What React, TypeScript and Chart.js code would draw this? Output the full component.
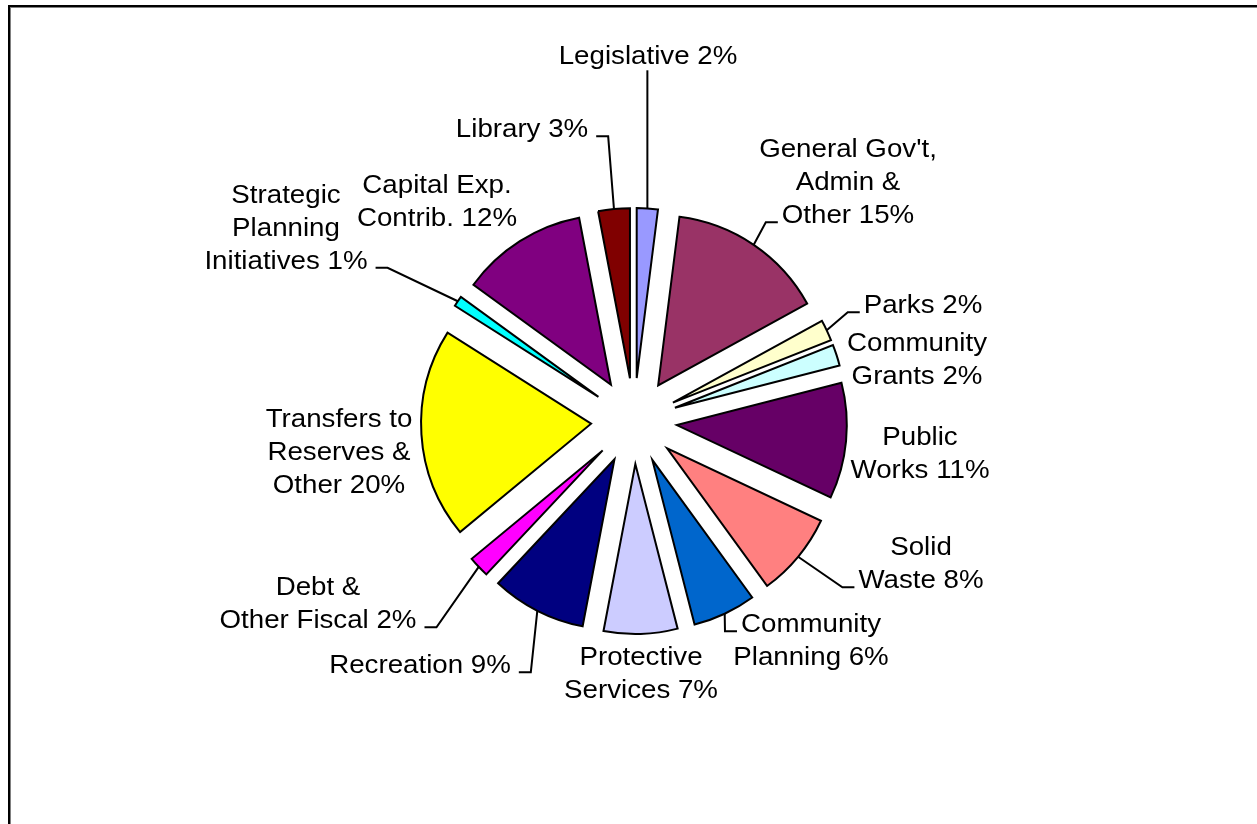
import { useEffect, useRef } from "react";
import { Chart, registerables } from "chart.js";

Chart.register(...registerables);

// ---- data ----
const CATEGORIES = [
  "Legislative",
  "General Gov't, Admin & Other",
  "Parks",
  "Community Grants",
  "Public Works",
  "Solid Waste",
  "Community Planning",
  "Protective Services",
  "Recreation",
  "Debt & Other Fiscal",
  "Transfers to Reserves & Other",
  "Strategic Planning Initiatives",
  "Capital Exp. Contrib.",
  "Library",
];
const VALUES = [2, 15, 2, 2, 11, 8, 6, 7, 9, 2, 20, 1, 12, 3];
const LABEL_LINES: string[][] = [
  ["Legislative"],
  ["General Gov't,", "Admin &", "Other"],
  ["Parks"],
  ["Community", "Grants"],
  ["Public", "Works"],
  ["Solid", "Waste"],
  ["Community", "Planning"],
  ["Protective", "Services"],
  ["Recreation"],
  ["Debt &", "Other Fiscal"],
  ["Transfers to", "Reserves &", "Other"],
  ["Strategic", "Planning", "Initiatives"],
  ["Capital Exp.", "Contrib."],
  ["Library"],
];

// ---- styles / layout ----
const COLORS = [
  "#9999FF",
  "#993366",
  "#FFFFCC",
  "#CCFFFF",
  "#660066",
  "#FF8080",
  "#0066CC",
  "#CCCCFF",
  "#000080",
  "#FF00FF",
  "#FFFF00",
  "#00FFFF",
  "#800080",
  "#800000",
];
const EXPLODE = 43;
const PIE_RADIUS = 170;
// label block centre relative to pie centre (px)
const LABEL_OFFSETS: [number, number][] = [
  [14, -366],
  [214, -240],
  [289, -117],
  [283, -62.5],
  [286, 31.5],
  [287, 141.5],
  [177, 218.5],
  [7, 251],
  [-214, 243],
  [-316, 181.5],
  [-295, 30],
  [-348, -194.5],
  [-197, -220.5],
  [-112, -293],
];
type Leader = { side: "left" | "right" | "bottom"; line: number } | null;
const LEADERS: Leader[] = [
  { side: "bottom", line: 0 },
  { side: "left", line: 2 },
  { side: "left", line: 0 },
  null,
  null,
  { side: "left", line: 1 },
  { side: "left", line: 0 },
  null,
  { side: "right", line: 0 },
  { side: "right", line: 1 },
  null,
  { side: "right", line: 2 },
  null,
  { side: "right", line: 0 },
];
const FONT = '26px "Liberation Sans", Arial, sans-serif';
const LINE_H = 33;
const CAP_HALF = 9.3;
const X_SCALE = 1.065;

const framePlugin = {
  id: "frame",
  beforeDraw(chart: any) {
    const ctx = chart.ctx;
    const w = chart.width;
    const h = chart.height;
    ctx.save();
    ctx.fillStyle = "#ffffff";
    ctx.fillRect(0, 0, w, h);
    ctx.fillStyle = "#000000";
    ctx.fillRect(8, 5, w - 8, 2);
    ctx.fillRect(8, 5, 2, h - 5);
    ctx.fillStyle = "#808080";
    ctx.fillRect(10, 7, w - 10, 1);
    ctx.fillRect(10, 7, 1, h - 7);
    ctx.restore();
  },
};

const explodePlugin = {
  id: "explode",
  beforeDatasetDraw(chart: any, args: any) {
    const meta = chart.getDatasetMeta(args.index);
    const ctx = chart.ctx;
    meta.data.forEach((arc: any) => {
      const mid = (arc.startAngle + arc.endAngle) / 2;
      ctx.save();
      ctx.translate(Math.cos(mid) * EXPLODE, Math.sin(mid) * EXPLODE);
      arc.draw(ctx);
      ctx.restore();
    });
    return false;
  },
};

const labelPlugin = {
  id: "sliceLabels",
  afterDatasetsDraw(chart: any) {
    const ctx = chart.ctx;
    const meta = chart.getDatasetMeta(0);
    ctx.save();
    ctx.font = FONT;
    ctx.fillStyle = "#000000";
    ctx.strokeStyle = "#000000";
    ctx.lineWidth = 2;
    ctx.textAlign = "center";
    ctx.textBaseline = "alphabetic";
    meta.data.forEach((arc: any, i: number) => {
      const cx0 = arc.x;
      const cy0 = arc.y;
      const lines = LABEL_LINES[i].slice();
      lines[lines.length - 1] = lines[lines.length - 1] + " " + VALUES[i] + "%";
      const [dx, dy] = LABEL_OFFSETS[i];
      const lx = cx0 + dx;
      const ly = cy0 + dy;
      const n = lines.length;
      const baselines = lines.map((_, k) => ly - ((n - 1) * LINE_H) / 2 + k * LINE_H + CAP_HALF);
      lines.forEach((t, k) => {
        ctx.save();
        ctx.translate(lx, baselines[k]);
        ctx.scale(X_SCALE, 1);
        ctx.fillText(t, 0, 0);
        ctx.restore();
      });
      const ld = LEADERS[i];
      if (ld) {
        const mid = (arc.startAngle + arc.endAngle) / 2;
        const rr = EXPLODE + arc.outerRadius;
        const px = cx0 + Math.cos(mid) * rr;
        const py = cy0 + Math.sin(mid) * rr;
        ctx.beginPath();
        if (ld.side === "bottom") {
          ctx.moveTo(px, baselines[n - 1] + 6);
          ctx.lineTo(px, py);
        } else {
          const tw = ctx.measureText(lines[ld.line]).width * X_SCALE;
          const y = baselines[ld.line] - 1;
          let ax: number, ex: number;
          if (ld.side === "right") {
            ax = lx + tw / 2 + 8;
            ex = ax + 12;
          } else {
            ax = lx - tw / 2 - 4;
            ex = ax - 12;
          }
          ctx.moveTo(ax, y);
          ctx.lineTo(ex, y);
          ctx.lineTo(px, py);
        }
        ctx.stroke();
      }
    });
    ctx.restore();
  },
};

export default function App() {
  const ref = useRef<HTMLCanvasElement | null>(null);
  useEffect(() => {
    if (!ref.current) return;
    const chart = new Chart(ref.current, {
      type: "pie",
      data: {
        labels: CATEGORIES,
        datasets: [
          {
            data: VALUES,
            backgroundColor: COLORS,
            borderColor: "#000000",
            borderWidth: 2,
            borderJoinStyle: "miter",
            radius: PIE_RADIUS,
          } as any,
        ],
      },
      options: {
        responsive: false,
        animation: false,
        events: [],
        layout: { padding: { left: 11, top: 18, right: 0, bottom: 0 } },
        plugins: {
          legend: { display: false },
          tooltip: { enabled: false },
        },
      },
      plugins: [framePlugin, explodePlugin, labelPlugin],
    });
    return () => chart.destroy();
  }, []);
  return (
    <div style={{ position: "fixed", left: 0, top: 0, width: 1257, height: 824, background: "#fff" }}>
      <canvas ref={ref} width={1257} height={824} style={{ display: "block", width: 1257, height: 824 }} />
    </div>
  );
}
